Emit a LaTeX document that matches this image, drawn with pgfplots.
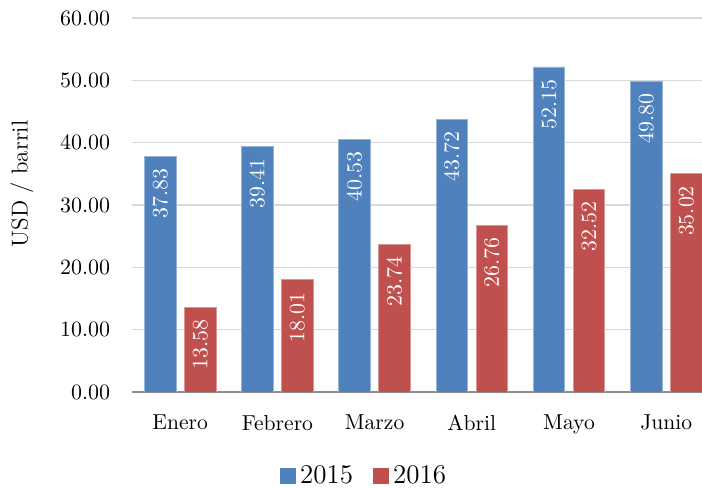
\documentclass[border=0pt]{standalone}
\usepackage{pgfplots}
\pgfplotsset{compat=1.18}
\definecolor{barblue}{HTML}{4F81BD}
\definecolor{barred}{HTML}{C0504D}
\definecolor{gridgray}{HTML}{D9D9D9}
\definecolor{axgray}{HTML}{8C8C8C}
\begin{document}
\begin{tikzpicture}
\begin{axis}[
  name=ax,
  at={(0,0)}, anchor=south west,
  scale only axis,
  width=285pt, height=187pt,
  ybar, bar width=15.8pt,
  xmin=-0.496, xmax=5.368,
  ymin=0, ymax=60,
  ytick={0,10,20,30,40,50,60},
  xtick={0,1,2,3,4,5},
  xticklabels={Enero,Febrero,Marzo,Abril,Mayo,Junio},
  axis x line*=bottom,
  axis y line*=left,
  y axis line style={draw=none},
  x axis line style={draw=axgray, line width=0.8pt, -},
  major tick length=0pt,
  ymajorgrids,
  major grid style={draw=gridgray, line width=0.8pt},
  yticklabel style={/pgf/number format/fixed, /pgf/number format/fixed zerofill, /pgf/number format/precision=2},
  yticklabel style={font=\fontsize{10.8}{12}\selectfont, xshift=-7.4pt},
  xticklabel style={font=\fontsize{10.8}{12}\selectfont, yshift=-8pt},
  ylabel={USD / barril},
  ylabel style={font=\fontsize{11.5}{13}\selectfont, at={(axis description cs:-0.193,0.556)}, anchor=center},
  nodes near coords={\pgfmathprintnumber[fixed,fixed zerofill,precision=2]{\pgfplotspointmeta}},
  nodes near coords style={rotate=90, anchor=east, text=white, inner xsep=6pt, inner ysep=0pt, font=\fontsize{10.8}{12}\selectfont},
  legend columns=2,
  legend style={draw=none, at={(0.409,-0.2246)}, anchor=center, font=\fontsize{13.5}{15}\selectfont,
    /tikz/every even column/.append style={column sep=8pt}, nodes={inner xsep=2pt}},
  legend image code/.code={\fill[#1,draw=none] (0pt,-4pt) rectangle (8pt,4pt);},
]
\addplot[fill=barblue, draw=barblue!60!white, line width=0.4pt, bar shift=-10pt]
  coordinates {(0,37.83) (1,39.41) (2,40.53) (3,43.72) (4,52.15) (5,49.80)};
\addplot[fill=barred, draw=barred!60!white, line width=0.4pt, bar shift=10pt]
  coordinates {(0,13.58) (1,18.01) (2,23.74) (3,26.76) (4,32.52) (5,35.02)};
\legend{2015,2016}
\end{axis}
\pgfresetboundingbox
\path ([xshift=-66pt,yshift=-48pt]ax.south west) rectangle ([yshift=9pt]ax.north east);
\end{tikzpicture}
\end{document}
